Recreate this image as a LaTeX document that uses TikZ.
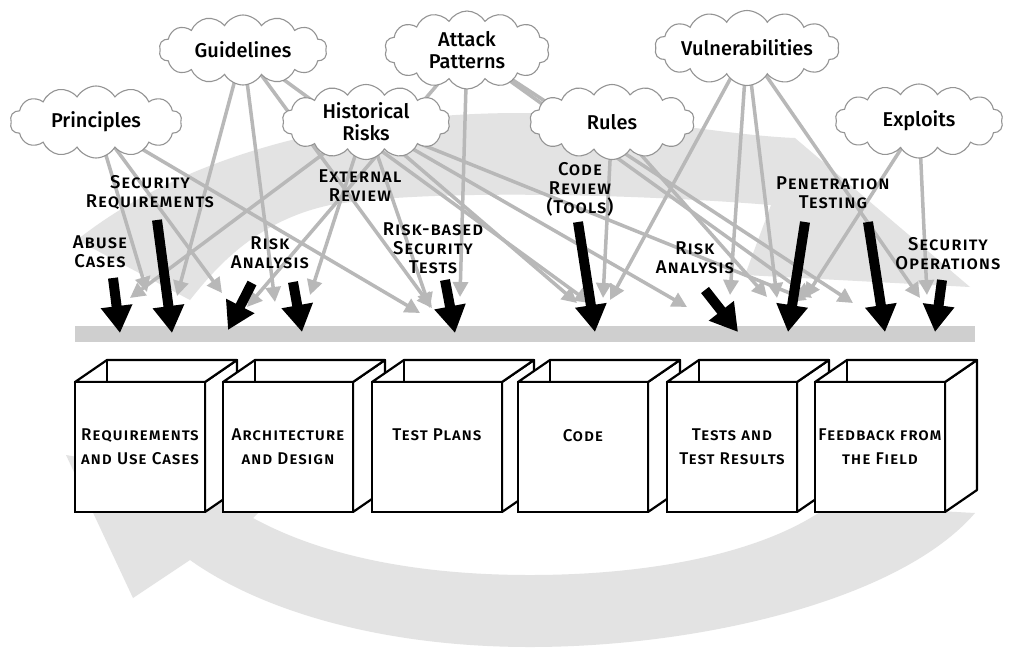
\documentclass[tikz,border=0pt]{standalone}
\usepackage{fontspec}
\setmainfont{Fira Sans Medium}
\newfontfamily\capfont[Letters=SmallCaps,LetterSpace=5]{Fira Sans Medium}
\usetikzlibrary{shapes.symbols,arrows.meta}

\definecolor{swirl}{gray}{0.89}
\definecolor{rail}{gray}{0.81}
\definecolor{feedgray}{gray}{0.72}
\definecolor{puffline}{gray}{0.58}

\begin{document}
\begin{tikzpicture}[x=1pt,y=-1pt,
  src/.style={cloud,cloud puffs=14,cloud puff arc=120,cloud ignores aspect,
    draw=puffline,fill=white,line width=1.1pt,inner sep=0pt,align=center,
    font=\fontsize{20}{22}\selectfont},
  feed/.style={draw=feedgray,line width=3.5pt,-{Triangle[width=15pt,length=15pt]}},
  act/.style={line width=10pt,-{Triangle[width=30pt,length=27pt]}},
  tag/.style={align=center,inner sep=1pt,font=\capfont\fontsize{18.5}{19}\selectfont},
  face/.style={draw,line width=2.2pt,fill=white,minimum width=130pt,minimum height=130pt,
    align=center,font=\capfont\fontsize{17}{24}\selectfont}]
\useasboundingbox (0,0) rectangle (1009,649);
\fill[white] (0,0) rectangle (1009,649);

% the cycle behind everything
\fill[swirl] (77,240) .. controls (190,150) and (360,113) .. (520,113)
  .. controls (620,113) and (720,135) .. (795,138) -- (970,287) -- (745,275)
  -- (771,205) .. controls (650,195) and (430,188) .. (330,205)
  .. controls (260,220) and (220,262) .. (190,300) -- cycle;
\fill[swirl] (975,513) .. controls (900,600) and (700,647) .. (530,647)
  .. controls (380,647) and (260,610) .. (190,560) -- (133,598) -- (66,455)
  -- (280,492) -- (253,518) .. controls (330,560) and (430,575) .. (530,575)
  .. controls (660,575) and (770,550) .. (830,505) -- cycle;

\fill[rail] (75,326) rectangle (975,342);

\coordinate (gui) at (243,50);
\coordinate (att) at (467,50);
\coordinate (vul) at (747,48);
\coordinate (pri) at (96,122);
\coordinate (his) at (366,122);
\coordinate (rul) at (612,122);
\coordinate (exp) at (919,121);

\foreach \src/\tx/\ty [count=\n] in {
  pri/147/292, pri/222/293, pri/420/313,
  gui/177/296, gui/275/302, gui/432/308, gui/590/303,
  his/130/298, his/310/295, his/430/308, his/577/303, his/687/307, his/807/300,
  att/247/307, att/460/297, att/812/298, att/853/303,
  rul/603/298, rul/767/297,
  vul/610/300, vul/730/295, vul/777/298, vul/920/298,
  exp/805/298, exp/927/295}
  {\coordinate (g\n) at (\tx,\ty);
   \draw[feed] (\src) -- (g\n);}

\node[src,minimum width=168pt,minimum height=70pt] (guiC) at (gui) {Guidelines};
\node[src,minimum width=165pt,minimum height=78pt] (attC) at (att) {Attack\\Patterns};
\node[src,minimum width=162pt,minimum height=75pt] (vulC) at (vul) {Vulnerabilities};
\node[src,minimum width=172pt,minimum height=72pt] (priC) at (pri) {Principles};
\node[src,minimum width=168pt,minimum height=75pt] (hisC) at (his) {Historical\\Risks};
\node[src,minimum width=165pt,minimum height=75pt] (rulC) at (rul) {Rules};
\node[src,minimum width=168pt,minimum height=74pt] (expC) at (exp) {Exploits};

\node[tag] (abuse) at (100,252) {Abuse\\Cases};
\node[tag] (secreq) at (150,193) {Security\\Requirements};
\node[tag] (riskA) at (270,253) {Risk\\Analysis};
\node[tag] (extrev) at (360,186) {External\\Review};
\node[tag] (rbst) at (433,248) {Risk-based\\Security\\Tests};
\node[tag] (codrev) at (580,189) {Code\\Review\\(Tools)};
\node[tag] (riskB) at (695,258) {Risk\\Analysis};
\node[tag] (pentest) at (833,193) {Penetration\\Testing};
\node[tag] (secops) at (948,254) {Security\\Operations};

\foreach \sx/\sy/\ex/\ey [count=\k] in {113/278/120/333, 157/220/172/333,
  252/283/228/330, 293/282/302/332, 445/280/455/333, 578/222/595/332,
  705/290/738/332, 805/222/788/332, 868/222/885/332, 942/280/935/332}
  {\coordinate (s\k) at (\sx,\sy);
   \coordinate (e\k) at (\ex,\ey);
   \draw[act] (s\k) -- (e\k);}

\foreach \x/\lbl [count=\i] in {75/{Requirements\\and Use Cases},
  223/{Architecture\\and Design}, 372/{Test Plans\\\mbox{}}, 518/{Code\\\mbox{}},
  667/{Tests and\\Test Results}, 815/{Feedback from\\the Field}}
  {\filldraw[fill=white,line width=2.2pt,line join=round]
     (\x+130,382) -- (\x+162,360) -- (\x+162,490) -- (\x+130,512) -- cycle;
   \filldraw[fill=white,line width=2.2pt,line join=round]
     (\x,382) -- (\x+32,360) -- (\x+162,360) -- (\x+130,382) -- cycle;
   \draw[line width=2.2pt] (\x+32,360) -- (\x+32,382);
   \node[face] (box\i) at (\x+65,447) {\lbl};}
\end{tikzpicture}
\end{document}
